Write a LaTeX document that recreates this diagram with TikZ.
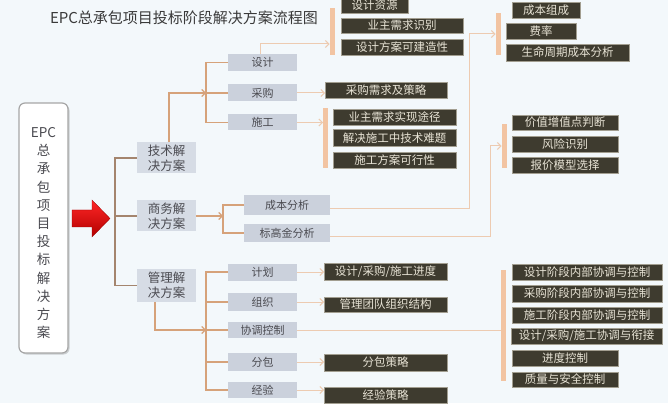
\documentclass[tikz,border=0pt]{standalone}
\usepackage{fontspec}
\setmainfont{Noto Sans CJK SC}
\usetikzlibrary{arrows.meta,shadows}
\definecolor{bgc}{HTML}{F3F8FB}
\definecolor{gboxc}{HTML}{CBD1DC}
\definecolor{sboxc}{HTML}{D6DCE5}
\definecolor{gtext}{HTML}{4A4A50}
\definecolor{dboxc}{HTML}{3E3B2F}
\definecolor{dborder}{HTML}{A29E90}
\definecolor{dtext}{HTML}{E8E4D6}
\definecolor{barc}{HTML}{F2C4A2}
\definecolor{trunkc}{HTML}{A4856E}
\definecolor{branchc}{HTML}{D6A27A}
\definecolor{lightc}{HTML}{EDCBB1}
\definecolor{titlec}{HTML}{3A3A3A}
\begin{document}
\begin{tikzpicture}[x=1pt,y=-1pt,
  gbox/.style={fill=gboxc, text=gtext, inner sep=0pt, outer sep=0pt, minimum width=69pt, minimum height=17pt, font=\fontsize{11}{12}\selectfont},
  sbox/.style={fill=sboxc, text=gtext, inner sep=0pt, outer sep=0pt, minimum width=59pt, minimum height=31pt, align=center, font=\fontsize{12.5}{15}\selectfont},
  dbox/.style={fill=dboxc, draw=dborder, line width=0.4pt, text=dtext, inner sep=0pt, outer sep=0pt, minimum height=16pt, font=\fontsize{11.5}{12}\selectfont},
  obar/.style={fill=barc, inner sep=0pt, outer sep=0pt, minimum width=5pt},
  trunk/.style={draw=trunkc, line width=1.1pt},
  branch/.style={draw=branchc, line width=1.1pt},
  light/.style={draw=lightc, line width=1pt},
  arr/.style={-{Straight Barb[length=3.5pt,width=7pt]}}
]
\useasboundingbox (0,0) rectangle (668,419);
\clip (0,0) rectangle (668,419);
\fill[white] (0,0) rectangle (668,419);
\fill[bgc] (0,0) rectangle (668,403);

% title
\node[text=titlec, font=\fontsize{15}{16}\selectfont] (title) at (184,18) {EPC总承包项目投标阶段解决方案流程图};

% left box
\node[draw=gray!70, line width=1.2pt, fill=white, rounded corners=6pt, minimum width=49pt, minimum height=250pt, inner sep=0pt,
  drop shadow={shadow xshift=1.5pt, shadow yshift=-1.5pt, opacity=0.35}] (L) at (43.5,228) {};
\node[text=gtext, align=center, font=\fontsize{13.5}{18.2}\selectfont, inner sep=0pt] (LT) at (43.5,233) {EPC\\总\\承\\包\\项\\目\\投\\标\\解\\决\\方\\案};

% red arrow
\path[top color=red!85!white, bottom color=red!70!black, draw=red!60!black, line width=0.3pt]
  (72,210) -- (92,210) -- (92,200) -- (110,218.5) -- (92,237) -- (92,227) -- (72,227) -- cycle;

% second level
\node[sbox] (T) at (166.5,158) {技术解\\决方案};
\node[sbox] (B) at (166.5,216) {商务解\\决方案};
\node[sbox, minimum height=33pt] (M) at (166.5,285.5) {管理解\\决方案};

\draw[trunk] (T.west) -- ++(-22,0) coordinate (tk) |- (M.west);
\draw[trunk] (B.west) -- (B.west -| tk);

% technical branch
\node[gbox] (D) at (262.5,62.5) {设计};
\node[gbox] (P) at (262.5,93) {采购};
\node[gbox, minimum height=16pt] (C) at (262.5,122.5) {施工};
\draw[branch] (D.west) -- ++(-22,0) coordinate (tb) |- (C.west);
\draw[branch] (P.west) -- (P.west -| tb);
\draw[branch, arr] ([xshift=2.5pt]T.north) |- (P.west -| tb);

\node[obar, minimum height=47pt] (bar1) at (332,31.5) {};
\node[dbox, minimum width=67pt] (d1) at (374.5,5) {设计资源};
\node[dbox, minimum width=122pt, minimum height=15pt] (d2) at (402,25.5) {业主需求识别};
\node[dbox, minimum width=122pt] (d3) at (402,47) {设计方案可建造性};
\draw[light, arr] ([xshift=-2.5pt]D.north) |- ([yshift=-12.5pt]bar1.west);

\node[dbox, minimum width=122pt] (p1) at (386,90.5) {采购需求及策略};
\draw[light, arr] (P.east) -- (P.east -| p1.west);

\node[obar, minimum height=60pt] (bar2) at (325.5,138) {};
\node[dbox, minimum width=123pt] (c1) at (394.5,117) {业主需求实现途径};
\node[dbox, minimum width=123pt, minimum height=17pt] (c2) at (394.5,138) {解决施工中技术难题};
\node[dbox, minimum width=123pt] (c3) at (394.5,160) {施工方案可行性};
\draw[light, arr] (C.east) -- (C.east -| bar2.west);

% business branch
\node[gbox, minimum width=86pt, minimum height=20pt] (ca) at (287,205) {成本分析};
\node[gbox, minimum width=86pt, minimum height=18pt] (ta) at (287,233) {标高金分析};
\draw[branch] (ca.west) -- ++(-21,0) coordinate (bk) |- (ta.west);
\draw[branch, arr] (B.east) -- (B.east -| bk);

\node[obar, minimum height=42pt] (bar3) at (498,34) {};
\node[dbox, minimum width=68pt] (e1) at (546,10) {成本组成};
\node[dbox, minimum width=70pt] (e2) at (541,31) {费率};
\node[dbox, minimum width=123pt, minimum height=17pt] (e3) at (567.5,52.5) {生命周期成本分析};
\draw[light, arr] ([yshift=-4pt]ca.east) -- ++(139,0) |- (bar3.west);

\node[obar, minimum height=44pt] (bar4) at (504,146) {};
\node[dbox, minimum width=106pt, minimum height=15pt] (f1) at (565,122.5) {价值增值点判断};
\node[dbox, minimum width=106pt] (f2) at (565,144) {风险识别};
\node[dbox, minimum width=106pt] (f3) at (565,165) {报价模型选择};
\draw[light, arr] ([yshift=-4pt]ta.east) -- ++(160,0) |- (bar4.west);

% management branch
\node[gbox] (g1) at (262.5,272) {计划};
\node[gbox, minimum height=18pt] (g2) at (262.5,302) {组织};
\node[gbox, minimum height=16pt] (g3) at (262.5,330) {协调控制};
\node[gbox, minimum height=18pt] (g4) at (262.5,362) {分包};
\node[gbox, minimum height=16pt] (g5) at (262.5,390) {经验};
\draw[branch] (g1.west) -- ++(-22,0) coordinate (mb) |- (g5.west);
\draw[branch] (g2.west) -- (g2.west -| mb);
\draw[branch] (g3.west) -- (g3.west -| mb);
\draw[branch] (g4.west) -- (g4.west -| mb);
\draw[branch, arr] ([xshift=-11.5pt]M.south) |- (g3.west -| mb);

\node[dbox, minimum width=123pt, minimum height=17pt] (h1) at (385.5,271.5) {设计/采购/施工进度};
\node[dbox, minimum width=123pt, minimum height=15pt] (h2) at (385.5,304.5) {管理团队组织结构};
\node[dbox, minimum width=123pt, minimum height=17pt] (h4) at (385.5,362.5) {分包策略};
\node[dbox, minimum width=123pt] (h5) at (385.5,395) {经验策略};
\draw[light, arr] (g1.east) -- (g1.east -| h1.west);
\draw[light, arr] (g2.east) -- (g2.east -| h2.west);
\draw[light, arr] (g4.east) -- (g4.east -| h4.west);
\draw[light, arr] (g5.east) -- (g5.east -| h5.west);

\node[obar, minimum height=111pt] (bar5) at (503.5,325.5) {};
\draw[light] (g3.east) -- (g3.east -| bar5.west);
\node[dbox, minimum width=150pt] (k1) at (587,272) {设计阶段内部协调与控制};
\node[dbox, minimum width=150pt, minimum height=17pt] (k2) at (587,293.5) {采购阶段内部协调与控制};
\node[dbox, minimum width=150pt] (k3) at (587,315) {施工阶段内部协调与控制};
\node[dbox, minimum width=151pt] (k4) at (586.5,336) {设计/采购/施工协调与衔接};
\node[dbox, minimum width=106pt] (k5) at (565,358) {进度控制};
\node[dbox, minimum width=106pt, minimum height=15pt] (k6) at (565,379.5) {质量与安全控制};
\end{tikzpicture}
\end{document}
